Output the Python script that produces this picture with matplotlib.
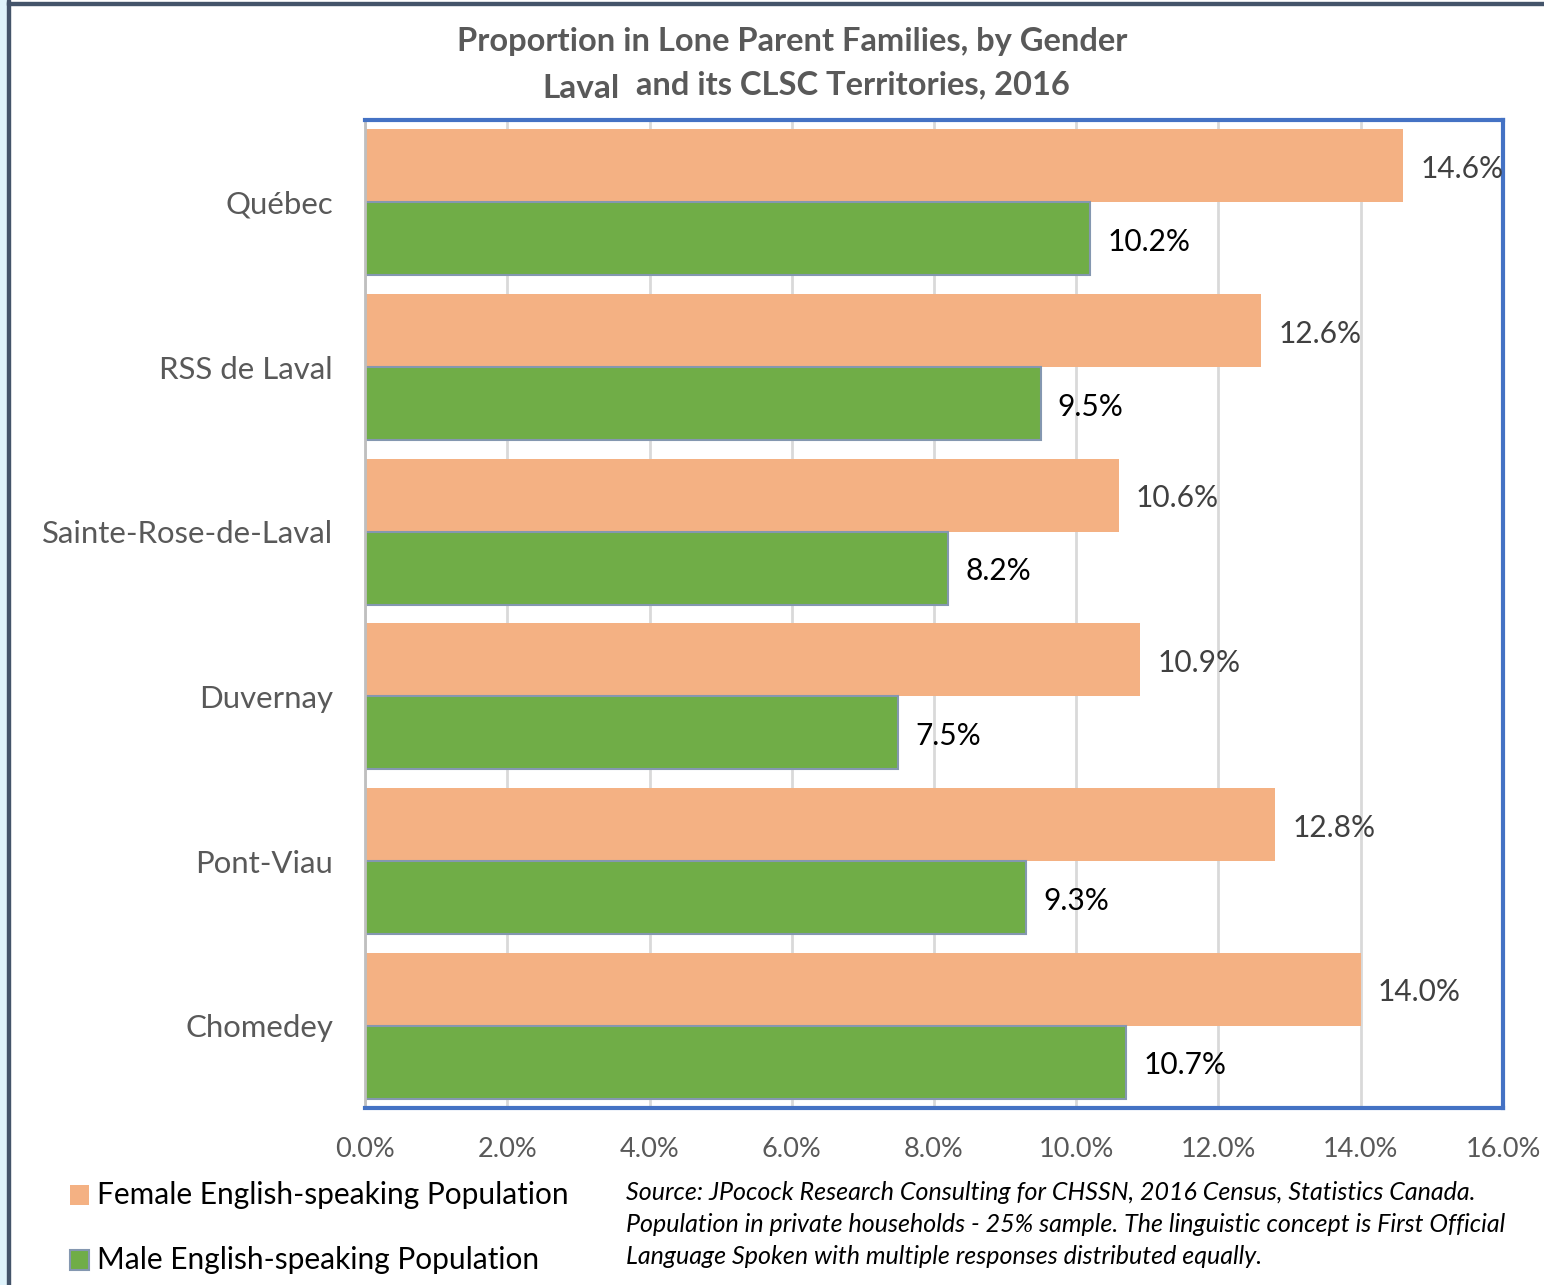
import matplotlib
matplotlib.use("Agg")
import matplotlib.pyplot as plt
from matplotlib.patches import Rectangle
import numpy as np

categories = ["Québec", "RSS de Laval", "Sainte-Rose-de-Laval", "Duvernay", "Pont-Viau", "Chomedey"]
female = [14.6, 12.6, 10.6, 10.9, 12.8, 14.0]
male = [10.2, 9.5, 8.2, 7.5, 9.3, 10.7]
xticks = [0, 2, 4, 6, 8, 10, 12, 14, 16]
series_names = ["Female English-speaking Population", "Male English-speaking Population"]

FONT = ["Lato", "DejaVu Sans"]
plt.rcParams['font.family'] = FONT

W, H = 1544, 1285
fig = plt.figure(figsize=(W/100, H/100), dpi=100)

# Background frame decorations
fig.patches.append(Rectangle((0, 0), 7/W, 1, transform=fig.transFigure, color="#DFF3FB", zorder=0))
fig.patches.append(Rectangle((7/W, 0), 3/W, 1, transform=fig.transFigure, color="#44546A", zorder=0))
fig.patches.append(Rectangle((7/W, 1-5/H), 1, 3/H, transform=fig.transFigure, color="#44546A", zorder=0))

left, right, top, bottom = 365, 1503, 120, 1108
ax = fig.add_axes([left/W, 1-bottom/H, (right-left)/W, (bottom-top)/H])

n = len(categories)
y = np.arange(n)
h = 0.443
ax.barh(y - h/2, female, height=h, color="#F4B183", edgecolor="none", zorder=2)
ax.barh(y + h/2, male, height=h, color="#70AD47", edgecolor="#8497B0", linewidth=1.5, zorder=2)

for i in range(n):
    ax.text(female[i] + 0.24, y[i] - h/2 + 0.02, f"{female[i]:.1f}%", va="center", ha="left",
            fontsize=21.5, color="#404040", zorder=3)
    ax.text(male[i] + 0.24, y[i] + h/2 + 0.02, f"{male[i]:.1f}%", va="center", ha="left",
            fontsize=21.5, color="#000000", zorder=3)

ax.set_xlim(0, 16)
ax.set_ylim(n - 0.5, -0.5)
ax.set_xticks(xticks)
ax.set_xticklabels([f"{t:.1f}%" for t in xticks], fontsize=19.5, color="#595959")
ax.set_yticks(y)
ax.set_yticklabels(categories, fontsize=22.4, color="#595959")
ax.tick_params(axis="both", length=0)
ax.tick_params(axis="x", pad=21)
ax.tick_params(axis="y", pad=23)
ax.xaxis.grid(True, color="#D9D9D9", linewidth=2, zorder=0)
ax.set_axisbelow(True)
for s in ["top", "right", "bottom"]:
    ax.spines[s].set_color("#4472C4")
    ax.spines[s].set_linewidth(3)
ax.spines["left"].set_color("#BFBFBF")
ax.spines["left"].set_linewidth(2)

# Title
fig.text(792/W, 1-42/H, "Proportion in Lone Parent Families, by Gender", ha="center", va="center",
         fontsize=23.5, fontweight="bold", color="#595959")
fig.text(581/W, 1-89/H, "Laval", ha="center", va="center", fontsize=24, fontweight="bold", color="#595959")
fig.text(853/W, 1-85/H, "and its CLSC Territories, 2016", ha="center", va="center",
         fontsize=23.5, fontweight="bold", color="#595959")

# Legend
colors = ["#F4B183", "#70AD47"]
edges = ["none", "#8497B0"]
ys = [1195, 1260]
for nm, c, e, yy in zip(series_names, colors, edges, ys):
    fig.patches.append(Rectangle((70/W, 1-(yy+10)/H), 19/W, 20/H, transform=fig.transFigure,
                                 facecolor=c, edgecolor=e, linewidth=1.5))
    fig.text(97/W, 1-yy/H, nm, ha="left", va="center", fontsize=21.5, color="#000000")

src = ["Source: JPocock Research Consulting for CHSSN, 2016 Census, Statistics Canada.",
       "Population in private households - 25% sample. The linguistic concept is First Official",
       "Language Spoken with multiple responses distributed equally."]
for i, line in enumerate(src):
    fig.text(626/W, 1-(1192+32*i)/H, line, ha="left", va="center", fontsize=18,
             style="italic", color="#000000")

fig.savefig("out.png", dpi=100, facecolor="white")
